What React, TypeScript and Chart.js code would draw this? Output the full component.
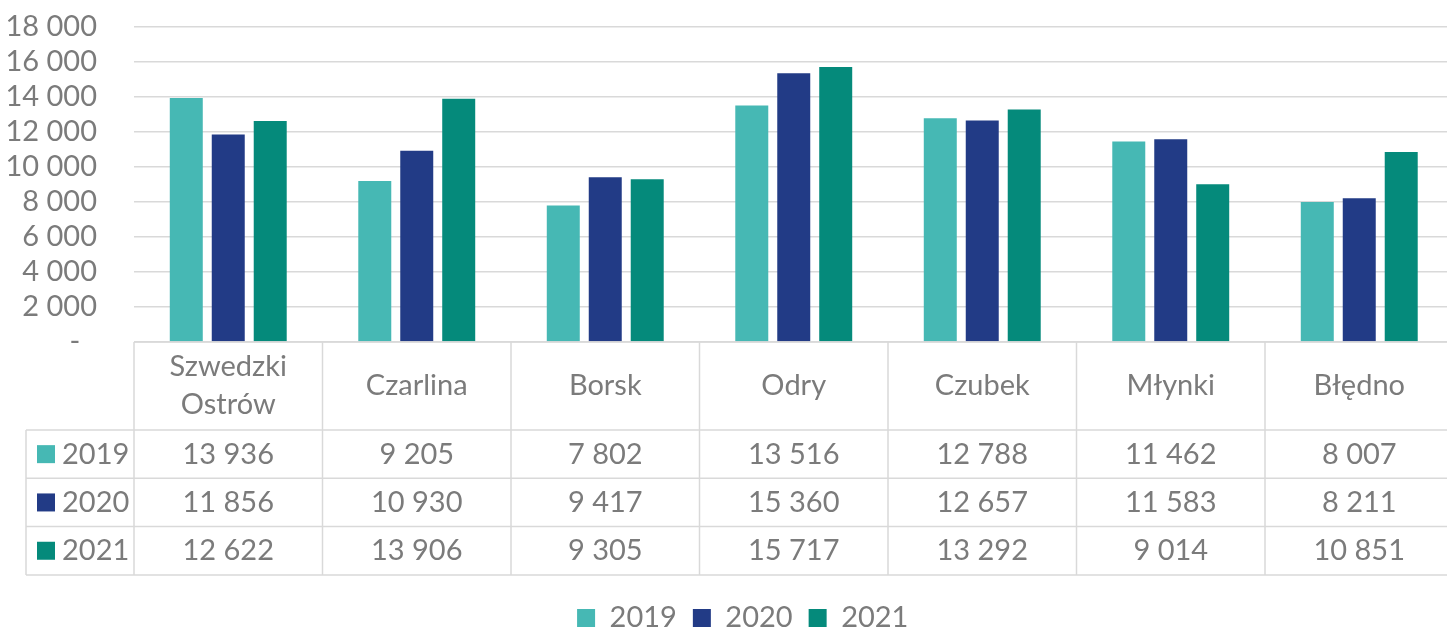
import React, { useEffect, useRef } from 'react';
import { Chart, registerables } from 'chart.js';

Chart.register(...registerables);

const categories: (string | string[])[] = [['Szwedzki', 'Ostrów'], 'Czarlina', 'Borsk', 'Odry', 'Czubek', 'Młynki', 'Błędno'];
const seriesNames = ['2019', '2020', '2021'];
const values2019 = [13936, 9205, 7802, 13516, 12788, 11462, 8007];
const values2020 = [11856, 10930, 9417, 15360, 12657, 11583, 8211];
const values2021 = [12622, 13906, 9305, 15717, 13292, 9014, 10851];
const seriesColors = ['#46B8B4', '#223B86', '#058A7B'];
const yMin = 0;
const yMax = 18000;
const yStep = 2000;

const FONT = 'Lato';
const FONT_SIZE = 29;
const TEXT_COLOR = '#7b7b7b';
const GRID_COLOR = '#d9d9d9';

function fmt(v: number): string {
  if (v === 0) return '-\u2007';
  const s = Math.round(v).toString();
  return s.replace(/\B(?=(\d{3})+(?!\d))/g, ' ');
}

const legendShiftPlugin = {
  id: 'legendShift',
  beforeDraw(chart: any) {
    const lg = chart.legend;
    if (lg && !lg._shifted) {
      lg.left += 16;
      lg.right += 16;
      lg.top += 3;
      lg.bottom += 3;
      lg._shifted = true;
    }
  },
};

const tablePlugin = {
  id: 'dataTable',
  afterDraw(chart: any) {
    const ctx = chart.ctx as CanvasRenderingContext2D;
    const xs = chart.scales.x;
    const top = chart.chartArea.bottom;
    const headerH = 88;
    const rowH = 48.3;
    const tableLeft = 26;
    const labels = chart.data.labels as (string | string[])[];
    const datasets = chart.data.datasets;
    const n = labels.length;
    const bounds: number[] = [];
    for (let i = 0; i <= n; i++) {
      if (i === 0) bounds.push(xs.left);
      else if (i === n) bounds.push(xs.right);
      else bounds.push((xs.getPixelForValue(i - 1) + xs.getPixelForValue(i)) / 2);
    }
    const bottom = top + headerH + rowH * datasets.length;
    ctx.save();
    ctx.strokeStyle = GRID_COLOR;
    ctx.lineWidth = 1.5;
    const line = (x1: number, y1: number, x2: number, y2: number) => {
      ctx.beginPath();
      ctx.moveTo(x1, y1);
      ctx.lineTo(x2, y2);
      ctx.stroke();
    };
    line(xs.left, top, xs.right, top);
    for (let r = 0; r <= datasets.length; r++) {
      const y = top + headerH + r * rowH;
      line(tableLeft, y, xs.right, y);
    }
    bounds.forEach((b) => line(b, top, b, bottom));
    line(tableLeft, top + headerH, tableLeft, bottom);

    ctx.font = `${FONT_SIZE}px ${FONT}`;
    ctx.fillStyle = TEXT_COLOR;
    ctx.textAlign = 'center';
    ctx.textBaseline = 'middle';
    const lineH = 38;
    labels.forEach((lab, i) => {
      const lines = Array.isArray(lab) ? lab : [lab];
      const cx = xs.getPixelForValue(i);
      lines.forEach((t, j) => {
        const y = top + headerH / 2 + (j - (lines.length - 1) / 2) * lineH;
        ctx.fillText(t, cx, y);
      });
    });
    datasets.forEach((ds: any, r: number) => {
      const cy = top + headerH + r * rowH + rowH / 2;
      ctx.fillStyle = ds.backgroundColor;
      ctx.fillRect(37, cy - 9, 18, 18);
      ctx.fillStyle = TEXT_COLOR;
      ctx.textAlign = 'left';
      ctx.fillText(ds.label, 62, cy);
      ctx.textAlign = 'center';
      (ds.data as number[]).forEach((v, i) => {
        ctx.fillText(fmt(v), xs.getPixelForValue(i), cy);
      });
    });
    ctx.restore();
  },
};

export default function App() {
  const ref = useRef<HTMLCanvasElement>(null);
  useEffect(() => {
    if (!ref.current) return;
    const seriesValues = [values2019, values2020, values2021];
    const chart = new Chart(ref.current, {
      type: 'bar',
      data: {
        labels: categories,
        datasets: seriesNames.map((name, k) => ({
          label: name,
          data: seriesValues[k],
          backgroundColor: seriesColors[k],
          borderWidth: 0,
          categoryPercentage: 0.668,
          barPercentage: 0.786,
        })),
      },
      options: {
        animation: false,
        responsive: false,
        maintainAspectRatio: false,
        layout: { padding: { top: 27, left: 0, right: 20.5, bottom: 20.5 } },
        plugins: {
          tooltip: { enabled: false },
          legend: {
            position: 'bottom',
            labels: {
              boxWidth: 18,
              boxHeight: 18,
              padding: 16,
              color: TEXT_COLOR,
              font: { family: FONT, size: FONT_SIZE },
            },
          },
        },
        scales: {
          x: {
            grid: { display: false },
            border: { display: false },
            ticks: { display: false },
            afterFit: (s: any) => {
              s.height = 242.5;
            },
          },
          y: {
            min: yMin,
            max: yMax,
            grid: { color: GRID_COLOR, lineWidth: 1.5, drawTicks: false },
            border: { display: false },
            ticks: {
              stepSize: yStep,
              autoSkip: false,
              padding: 37,
              color: TEXT_COLOR,
              font: { family: FONT, size: FONT_SIZE },
              callback: (v: any) => fmt(Number(v)),
            },
            afterFit: (s: any) => {
              s.width = 134;
              s.paddingTop = 0;
              s.paddingBottom = 0;
            },
          },
        },
      },
      plugins: [tablePlugin, legendShiftPlugin],
    });
    return () => chart.destroy();
  }, []);
  return (
    <div style={{ position: 'fixed', left: 0, top: 0, width: 1447, height: 627, overflow: 'hidden', background: '#fff' }}>
      <canvas ref={ref} width={1474} height={660} style={{ display: 'block' }} />
    </div>
  );
}
